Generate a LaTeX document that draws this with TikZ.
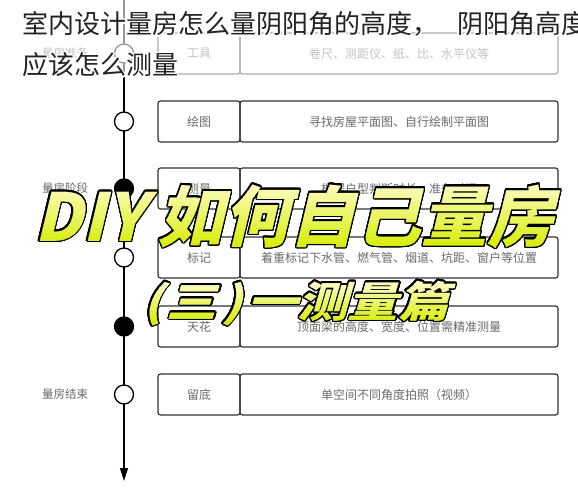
\documentclass[tikz,border=0pt]{standalone}
\usepackage{fontspec}
\usepackage{contour}
\usepackage{graphicx}
\setmainfont{Noto Sans CJK SC}
\newfontfamily\bigfont[FakeSlant=0.24]{Noto Sans CJK SC}
\contourlength{1.4pt}
\contournumber{32}
\usetikzlibrary{arrows.meta}
\definecolor{gradtop}{HTML}{FFFFD0}
\definecolor{gradbot}{HTML}{D6EC00}
\definecolor{boxline}{HTML}{333333}
\definecolor{txtgray}{HTML}{6A6A6A}
\definecolor{titlecol}{HTML}{222222}
\newcommand\bigA{\bigfont\bfseries DIY\hspace{12pt}如何自己量房}
\newcommand\bigB{\scalebox{1.2}[1]{\bigfont\bfseries (\hspace{3pt}三\hspace{4pt})\hspace{4pt}一测量篇}}
\tikzset{
  leftbox/.style={draw=boxline, line width=1.2pt, rounded corners=2.5pt, minimum width=82pt, minimum height=41pt, inner sep=0pt, text=txtgray, font=\fontsize{12}{14}\selectfont},
  rightbox/.style={draw=boxline, line width=1.2pt, rounded corners=2.5pt, minimum width=318pt, minimum height=41pt, inner sep=0pt, text=txtgray, font=\fontsize{12}{14}\selectfont},
  dotopen/.style={circle, draw=black, fill=white, line width=1.3pt, minimum size=19pt, inner sep=0pt},
  dotfull/.style={circle, draw=black, fill=black, line width=1.3pt, minimum size=19pt, inner sep=0pt},
  sidelbl/.style={text=txtgray, font=\fontsize{11.5}{13}\selectfont, inner sep=0pt},
  titletxt/.style={anchor=base west, inner sep=0pt, text=titlecol, font=\fontsize{26}{26}\selectfont},
  bigtxt/.style={anchor=base west, inner sep=0pt, font=\fontsize{66}{66}\selectfont},
  midtxt/.style={anchor=base west, inner sep=0pt, font=\fontsize{42}{42}\selectfont},
}
\begin{document}
\begin{tikzpicture}[x=1pt,y=-1pt]
\useasboundingbox (0,0) rectangle (578,500);
\fill[white] (0,0) rectangle (578,500);
% timeline
\coordinate (tltop) at (124,0);
\coordinate (tlend) at (124,481);
\draw[line width=1.3pt, -{Triangle[length=13pt,width=8pt]}] (tltop) -- (tlend);
% circles
\node[dotopen] (c1) at (124,53.5) {};
\node[dotopen] (c2) at (124,121.5) {};
\node[dotfull] (c3) at (124,188.5) {};
\node[dotopen] (c4) at (124,257.5) {};
\node[dotfull] (c5) at (124,326.5) {};
\node[dotopen] (c6) at (124,394.5) {};
% boxes
\node[leftbox]  (l1) at (199,53.5) {工具};
\node[rightbox] (r1) at (399,53.5) {卷尺、测距仪、纸、比、水平仪等};
\node[leftbox]  (l2) at (199,121.5) {绘图};
\node[rightbox] (r2) at (399,121.5) {寻找房屋平面图、自行绘制平面图};
\node[leftbox]  (l3) at (199,188.5) {测量};
\node[rightbox] (r3) at (399,188.5) {根据户型判断时长、准备时间};
\node[leftbox]  (l4) at (199,257.5) {标记};
\node[rightbox] (r4) at (399,257.5) {着重标记下水管、燃气管、烟道、坑距、窗户等位置};
\node[leftbox]  (l5) at (199,326.5) {天花};
\node[rightbox] (r5) at (399,326.5) {顶面梁的高度、宽度、位置需精准测量};
\node[leftbox]  (l6) at (199,394.5) {留底};
\node[rightbox] (r6) at (399,394.5) {单空间不同角度拍照（视频）};
% side labels
\node[sidelbl] (s1) at (65,53.5) {量房准备};
\node[sidelbl] (s3) at (65,188.5) {量房阶段};
\node[sidelbl] (s6) at (65,394.5) {量房结束};
% translucent band under title
\fill[white, opacity=0.6] (0,0) rectangle (578,77);
% title
\node[titletxt] (t1) at (22,34) {\contour{white}{室内设计量房怎么量阴阳角的高度，}};
\node[titletxt] (t1b) at (457,34) {\contour{white}{阴阳角高度}};
\node[titletxt] (t2) at (22,75) {\contour{white}{应该怎么测量}};
% big overlay 1
\node[bigtxt] (ov1) at (34,241) {\contour{black}{\bigA}};
\foreach \i [evaluate=\i as \p using {int(\i*100/15)}, evaluate=\i as \ya using {178+\i*4.6}, evaluate=\i as \yb using {178+(\i+1)*4.6}] in {0,...,15} {
  \begin{scope}
    \clip (0,\ya) rectangle (578,\yb);
    \node[bigtxt, text=gradbot!\p!gradtop] (g\i) at (34,241) {\bigA};
  \end{scope}
}
% big overlay 2
\node[midtxt] (ov2) at (143,317) {\contour{black}{\bigB}};
\foreach \i [evaluate=\i as \p using {int(\i*100/11)}, evaluate=\i as \ya using {280+\i*3.8}, evaluate=\i as \yb using {280+(\i+1)*3.8}] in {0,...,11} {
  \begin{scope}
    \clip (0,\ya) rectangle (578,\yb);
    \node[midtxt, text=gradbot!\p!gradtop] (h\i) at (143,317) {\bigB};
  \end{scope}
}
\end{tikzpicture}
\end{document}
